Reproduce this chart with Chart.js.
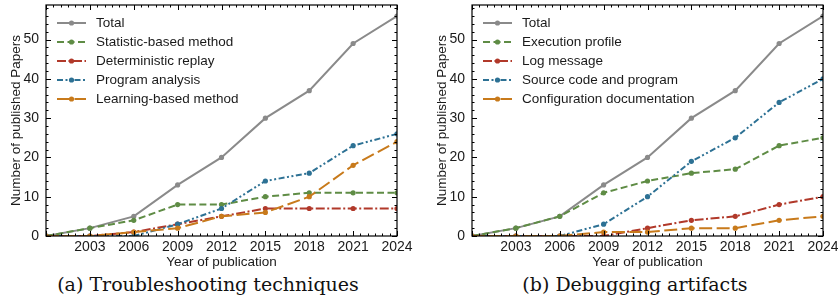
<!DOCTYPE html>
<html>
<head>
<meta charset="utf-8">
<script src="https://cdn.jsdelivr.net/npm/chart.js@4.4.1/dist/chart.umd.min.js"></script>
<style>
body{margin:0;width:838px;height:305px;overflow:hidden;background:#fff;position:relative}
.panel{position:absolute;top:0;width:419px;height:272px}
.cap{position:absolute;top:273px;width:419px;text-align:center;font-family:"DejaVu Serif",serif;font-size:19px;line-height:23px;color:#111;white-space:nowrap}
</style>
</head>
<body>
<div class="panel" style="left:0"><canvas id="techniques" width="419" height="272"></canvas></div>
<div class="panel" style="left:426px"><canvas id="artifacts" width="419" height="272"></canvas></div>
<div class="cap" style="left:-1.5px">(a) Troubleshooting techniques</div>
<div class="cap" style="left:425.5px">(b) Debugging artifacts</div>
<script>
// years on the x axis
const years = [2000, 2003, 2006, 2009, 2012, 2015, 2018, 2021, 2024]

// (a) troubleshooting techniques
const techLabels = ["Total", "Statistic-based method", "Deterministic replay", "Program analysis", "Learning-based method"]
const total = [0, 2, 5, 13, 20, 30, 37, 49, 56]
const statistic = [0, 2, 4, 8, 8, 10, 11, 11, 11]
const replay = [0, 0, 1, 3, 5, 7, 7, 7, 7]
const programAnalysis = [0, 0, 0, 3, 7, 14, 16, 23, 26]
const learning = [0, 0, 1, 2, 5, 6, 10, 18, 24]

// (b) debugging artifacts
const artLabels = ["Total", "Execution profile", "Log message", "Source code and program", "Configuration documentation"]
const execProfile = [0, 2, 5, 11, 14, 16, 17, 23, 25]
const logMessage = [0, 0, 0, 0, 2, 4, 5, 8, 10]
const sourceCode = [0, 0, 0, 3, 10, 19, 25, 34, 40]
const configDoc = [0, 0, 0, 1, 1, 2, 2, 4, 5]

const colors = ["#8a8a8a", "#5f8c45", "#b1392a", "#2d7194", "#c87a1b"]
const dashes = [[], [7, 3.5], [9, 2.5, 2, 2.5], [6, 2.5, 2, 2.5, 2, 2.5], [13, 4.5]]

const sans = '"Liberation Sans", Arial, sans-serif'
const textColor = "#1a1a1a"

function makeDatasets(labels, series){
    return series.map((vals, i)=>({
        label: labels[i],
        data: years.map((yr, k)=>({x: yr, y: vals[k]})),
        borderColor: colors[i],
        backgroundColor: colors[i],
        borderWidth: 2,
        borderDash: dashes[i],
        pointRadius: 2.6,
        pointBorderWidth: 0,
        pointBackgroundColor: colors[i],
        tension: 0,
        order: -i
    }))
}

// legend inside the upper left corner, matplotlib style
const insideLegend = {
    id: "insideLegend",
    afterDatasetsDraw(chart){
        const {ctx, chartArea: a} = chart
        ctx.save()
        chart.data.datasets.forEach((ds, i)=>{
            const y = a.top + 18 + i * 19
            ctx.strokeStyle = ds.borderColor
            ctx.lineWidth = 2
            ctx.setLineDash(ds.borderDash)
            ctx.beginPath()
            ctx.moveTo(a.left + 11, y)
            ctx.lineTo(a.left + 40, y)
            ctx.stroke()
            ctx.setLineDash([])
            ctx.fillStyle = ds.borderColor
            ctx.beginPath()
            ctx.arc(a.left + 25.5, y, 2.6, 0, Math.PI * 2)
            ctx.fill()
            ctx.fillStyle = textColor
            ctx.font = "13.5px " + sans
            ctx.textBaseline = "middle"
            ctx.fillText(ds.label, a.left + 50, y + 0.5)
        })
        ctx.restore()
    }
}

// box with inward major/minor ticks on all four sides
const frameTicks = {
    id: "frameTicks",
    afterDatasetsDraw(chart){
        const {ctx, chartArea: a, scales: {x, y}} = chart
        ctx.save()
        ctx.strokeStyle = "#000"
        ctx.lineWidth = 1
        const seg = (x1, y1, x2, y2)=>{ ctx.beginPath(); ctx.moveTo(x1, y1); ctx.lineTo(x2, y2); ctx.stroke() }
        for(let v = x.min; v <= x.max + 1e-6; v += 0.5){
            const px = Math.round(x.getPixelForValue(v)) + 0.5
            const len = (v - x.min) % 3 === 0 ? 5 : 2.5
            seg(px, a.bottom, px, a.bottom - len)
            seg(px, a.top, px, a.top + len)
        }
        for(let v = 0; v <= y.max; v += 2){
            const py = Math.round(y.getPixelForValue(v)) + 0.5
            const len = v % 10 === 0 ? 5 : 2.5
            seg(a.left, py, a.left + len, py)
            seg(a.right, py, a.right - len, py)
        }
        ctx.lineWidth = 1.2
        ctx.strokeRect(a.left, a.top, a.right - a.left, a.bottom - a.top)
        ctx.restore()
    }
}

function drawPanel(id, labels, series){
    return new Chart(document.querySelector("#" + id), {
        type: "line",
        data: {datasets: makeDatasets(labels, series)},
        options: {
            responsive: false,
            animation: false,
            layout: {padding: {top: 5, right: 22, bottom: 0, left: 0}},
            plugins: {legend: {display: false}, tooltip: {enabled: false}},
            scales: {
                x: {
                    type: "linear",
                    min: 2000,
                    max: 2024,
                    grid: {display: false, drawTicks: false},
                    border: {display: false},
                    ticks: {
                        stepSize: 3,
                        autoSkip: false,
                        maxRotation: 0,
                        padding: 3,
                        color: textColor,
                        font: {family: sans, size: 14, lineHeight: 1.2},
                        callback: v => v === 2000 ? "" : String(v)
                    },
                    title: {
                        display: true,
                        text: "Year of publication",
                        color: textColor,
                        font: {family: sans, size: 13.5, lineHeight: 1.2},
                        padding: {top: 0, bottom: 2}
                    },
                    afterFit: s => { s.height = 36; s.paddingLeft = 0; s.paddingRight = 0 }
                },
                y: {
                    min: 0,
                    max: 58.8,
                    grid: {display: false, drawTicks: false},
                    border: {display: false},
                    ticks: {
                        stepSize: 10,
                        includeBounds: false,
                        padding: 7,
                        color: textColor,
                        font: {family: sans, size: 14, lineHeight: 1.2}
                    },
                    title: {
                        display: true,
                        text: "Number of published Papers",
                        color: textColor,
                        font: {family: sans, size: 13.5, lineHeight: 1.2},
                        padding: {top: 8, bottom: 0}
                    },
                    afterFit: s => { s.width = 46; s.paddingTop = 0; s.paddingBottom = 0 }
                }
            }
        },
        plugins: [frameTicks, insideLegend]
    })
}

drawPanel("techniques", techLabels, [total, statistic, replay, programAnalysis, learning])
drawPanel("artifacts", artLabels, [total, execProfile, logMessage, sourceCode, configDoc])
</script>
</body>
</html>
